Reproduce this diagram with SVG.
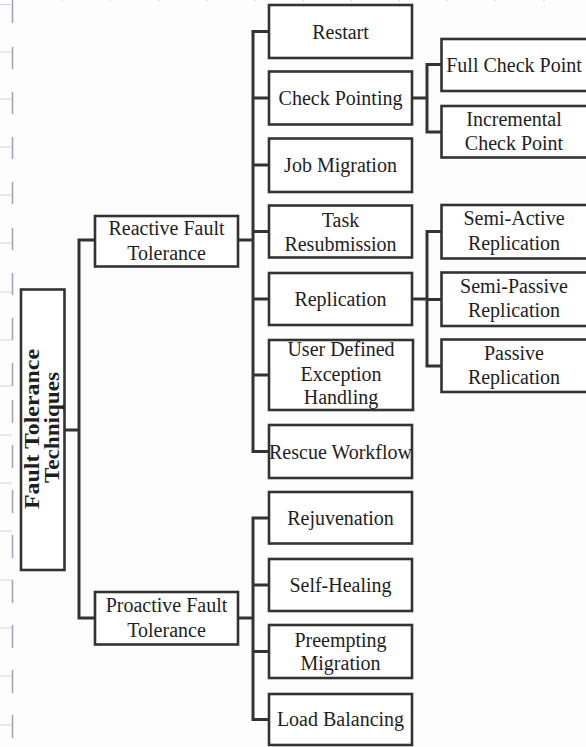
<svg xmlns="http://www.w3.org/2000/svg" width="586" height="747" viewBox="0 0 586 747">
<style>
.bg{fill:#fdfdfd}
.box{fill:#ffffff;stroke:#333333;stroke-width:2.6}
.con{fill:none;stroke:#333333;stroke-width:3;stroke-linejoin:miter;stroke-linecap:square}
.t{font-family:"Liberation Serif","Times New Roman",serif;font-size:20px;fill:#1e1e1e;text-anchor:middle}
.title{font-family:"Liberation Serif","Times New Roman",serif;font-size:21.5px;font-weight:bold;fill:#1e1e1e;text-anchor:middle}
.rv{stroke:#9e9ebd;stroke-width:1.5;fill:none}
.rh{stroke:#d2d2d2;stroke-width:1;fill:none}
</style>
<rect class="bg" x="0" y="0" width="586" height="747"/>
<g id="ruler">
<path class="rv" d="M12.5 0V23M12.5 47V69M12.5 92V114M12.5 137V159M12.5 182V204M12.5 228V250M12.5 273V295M12.5 318V340M12.5 363V386M12.5 400V423M12.5 445V468M12.5 490V513M12.5 535V558M12.5 580V603M12.5 625V648M12.5 670V693M12.5 715V738"/>
<path class="rh" d="M0 4.5H11M0 52H12M0 99H12M0 147H12M0 195H12M0 243H12M0 292H12M0 340H12M0 386H12M0 435H12M0 483H12M0 531H12M0 580H12M0 628H12M0 676H12M0 725H12"/>
<path class="rh" d="M62 0V1.5M110 0V1.5M159 0V1.5M207 0V1.5M255 0V1.5M303 0V1.5M351 0V1.5M399 0V1.5M447 0V1.5M495 0V1.5M544 0V1.5"/>
</g>
<g id="connectors">
<path class="con" d="M64.5 430H79M79 240V618M79 240H95M79 618H95"/>
<path class="con" d="M238 240H253M253 31.5V451.5M253 31.5H269M253 98H269M253 165H269M253 231.5H269M253 299H269M253 375H269M253 451.5H269"/>
<path class="con" d="M238 618H253M253 518V719.5M253 518H269M253 585H269M253 651.5H269M253 719.5H269"/>
<path class="con" d="M412 98H427M427 64.5V132M427 64.5H441.5M427 132H441.5"/>
<path class="con" d="M412 299H427M427 231.5V366M427 231.5H441.5M427 299.5H441.5M427 366H441.5"/>
</g>
<g id="root">
<rect class="box" x="21" y="289.5" width="43.5" height="280.5"/>
<g transform="translate(39,429) rotate(-90)">
<text class="title" x="0" y="0" textLength="160" lengthAdjust="spacingAndGlyphs">Fault Tolerance</text>
<text class="title" x="1.5" y="20" textLength="111" lengthAdjust="spacingAndGlyphs">Techniques</text>
</g>
</g>
<g id="reactive">
<rect class="box" x="95" y="216" width="143" height="50.5"/>
<text class="t" x="166.5" y="235">Reactive Fault</text>
<text class="t" x="166.5" y="260">Tolerance</text>
</g>
<g id="proactive">
<rect class="box" x="95" y="592" width="143" height="52.5"/>
<text class="t" x="166.5" y="612">Proactive Fault</text>
<text class="t" x="166.5" y="637">Tolerance</text>
</g>
<g id="restart">
<rect class="box" x="269" y="5" width="143" height="53"/>
<text class="t" x="340.5" y="38.5">Restart</text>
</g>
<g id="checkpointing">
<rect class="box" x="269" y="71.5" width="143" height="53"/>
<text class="t" x="340.5" y="105">Check Pointing</text>
</g>
<g id="jobmigration">
<rect class="box" x="269" y="138.5" width="143" height="53.5"/>
<text class="t" x="340.5" y="172">Job Migration</text>
</g>
<g id="taskresubmission">
<rect class="box" x="269" y="205.5" width="143" height="52"/>
<text class="t" x="340.5" y="227">Task</text>
<text class="t" x="340.5" y="251">Resubmission</text>
</g>
<g id="replication">
<rect class="box" x="269" y="273" width="143" height="52"/>
<text class="t" x="340.5" y="306">Replication</text>
</g>
<g id="userdefined">
<rect class="box" x="269" y="340" width="144" height="70"/>
<text class="t" x="341" y="356">User Defined</text>
<text class="t" x="341" y="381">Exception</text>
<text class="t" x="341" y="404">Handling</text>
</g>
<g id="rescue">
<rect class="box" x="269" y="425" width="143" height="53"/>
<text class="t" x="340.5" y="458.5">Rescue Workflow</text>
</g>
<g id="rejuvenation">
<rect class="box" x="269" y="492" width="143" height="51.5"/>
<text class="t" x="340.5" y="524.5">Rejuvenation</text>
</g>
<g id="selfhealing">
<rect class="box" x="269" y="559" width="143" height="52"/>
<text class="t" x="340.5" y="591.5">Self-Healing</text>
</g>
<g id="preempting">
<rect class="box" x="269" y="625" width="143" height="53"/>
<text class="t" x="340.5" y="646.5">Preempting</text>
<text class="t" x="340.5" y="670">Migration</text>
</g>
<g id="loadbalancing">
<rect class="box" x="269" y="694" width="143" height="51"/>
<text class="t" x="340.5" y="726">Load Balancing</text>
</g>
<g id="fullcheckpoint">
<rect class="box" x="441.5" y="39" width="150" height="52"/>
<text class="t" x="514" y="71.5">Full Check Point</text>
</g>
<g id="incremental">
<rect class="box" x="441.5" y="106" width="150" height="51.5"/>
<text class="t" x="514" y="126">Incremental</text>
<text class="t" x="514" y="150">Check Point</text>
</g>
<g id="semiactive">
<rect class="box" x="441.5" y="205" width="150" height="53.5"/>
<text class="t" x="514" y="225">Semi-Active</text>
<text class="t" x="514" y="250">Replication</text>
</g>
<g id="semipassive">
<rect class="box" x="441.5" y="272.5" width="150" height="53.5"/>
<text class="t" x="514" y="293">Semi-Passive</text>
<text class="t" x="514" y="317">Replication</text>
</g>
<g id="passive">
<rect class="box" x="441.5" y="339.5" width="150" height="52.5"/>
<text class="t" x="514" y="360">Passive</text>
<text class="t" x="514" y="384">Replication</text>
</g>
</svg>
